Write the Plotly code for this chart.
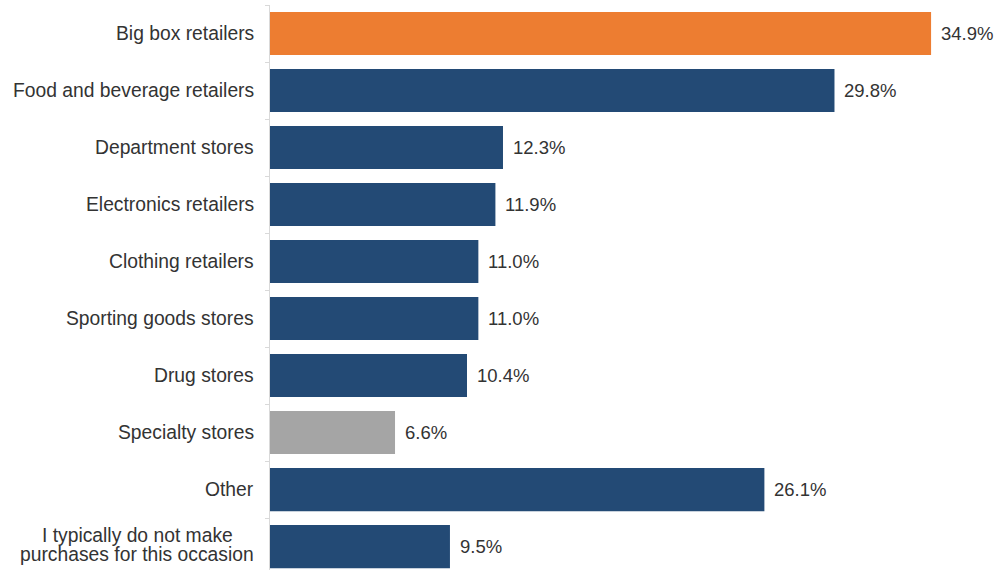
import plotly.graph_objects as go

# Store types, top to bottom, with the share of respondents for each
categories = [
    "Big box retailers",
    "Food and beverage retailers",
    "Department stores",
    "Electronics retailers",
    "Clothing retailers",
    "Sporting goods stores",
    "Drug stores",
    "Specialty stores",
    "Other",
    "I typically do not make<br>purchases for this occasion",
]
values = [34.9, 29.8, 12.3, 11.9, 11.0, 11.0, 10.4, 6.6, 26.1, 9.5]
value_labels = ["34.9%", "29.8%", "12.3%", "11.9%", "11.0%", "11.0%", "10.4%", "6.6%", "26.1%", "9.5%"]

NAVY = "#234A75"
ORANGE = "#ED7D31"
GREY = "#A5A5A5"
bar_colors = [ORANGE] + [NAVY] * 6 + [GREY] + [NAVY] * 2

TEXT = "#333333"
FONT = "Liberation Sans, Arial, sans-serif"
LABEL_SIZE = 19.3
LINE_STEP = 19  # px between lines of a wrapped category label

fig = go.Figure(
    go.Bar(
        x=values,
        y=categories,
        orientation="h",
        marker=dict(color=bar_colors, line=dict(width=0)),
        hoverinfo="skip",
    )
)

# Value labels just past the end of each bar
for cat, v, lab in zip(categories, values, value_labels):
    fig.add_annotation(
        x=v, y=cat, xref="x", yref="y",
        text=lab, showarrow=False,
        xanchor="left", yanchor="middle", xshift=8,
        font=dict(family=FONT, size=18.5, color=TEXT),
    )

# Category labels to the left of the axis; wrapped labels are centred line by line
for cat in categories:
    lines = cat.split("<br>")
    if len(lines) == 1:
        fig.add_annotation(
            x=0, y=cat, xref="paper", yref="y",
            text=cat, showarrow=False,
            xanchor="right", yanchor="middle", xshift=-14,
            font=dict(family=FONT, size=LABEL_SIZE, color=TEXT),
        )
    else:
        n = len(lines)
        for i, line in enumerate(lines):
            fig.add_annotation(
                x=-0.1825, y=cat, xref="paper", yref="y",
                text=line, showarrow=False,
                xanchor="center", yanchor="middle",
                yshift=((n - 1) / 2 - i) * LINE_STEP + 1.5,
                font=dict(family=FONT, size=LABEL_SIZE, color=TEXT),
            )

fig.update_layout(
    width=997,
    height=570,
    margin=dict(l=270, r=0, t=5, b=0),
    paper_bgcolor="white",
    plot_bgcolor="white",
    bargap=0.245,
    showlegend=False,
    font=dict(family=FONT, color=TEXT),
    xaxis=dict(
        range=[0, 38.38],
        visible=False,
        showgrid=False,
        zeroline=False,
        fixedrange=True,
    ),
    yaxis=dict(
        type="category",
        categoryorder="array",
        categoryarray=categories,
        range=[9.41, -0.5],
        showticklabels=False,
        showgrid=False,
        zeroline=False,
        showline=True,
        linecolor="#D9D9D9",
        linewidth=1,
        ticks="outside",
        tickson="boundaries",
        ticklen=4,
        tickcolor="#D9D9D9",
        tickwidth=1,
        fixedrange=True,
    ),
)

fig.write_html("out.html")
